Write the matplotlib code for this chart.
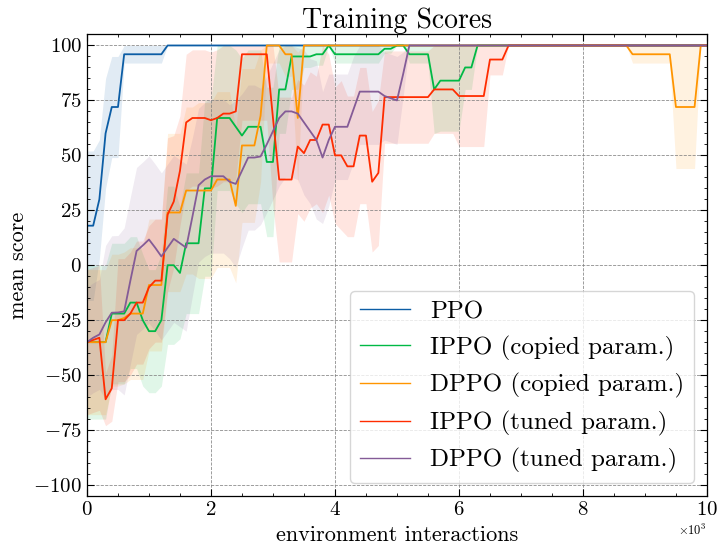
import numpy as np
import matplotlib
matplotlib.use("Agg")
import matplotlib.pyplot as plt
from matplotlib.ticker import MultipleLocator

plt.rcParams.update({
    "font.family": "serif",
    "font.serif": ["cmr10"],
    "mathtext.fontset": "cm",
    "axes.formatter.use_mathtext": True,
    "axes.unicode_minus": True,
    "xtick.direction": "in",
    "ytick.direction": "in",
    "xtick.top": True,
    "ytick.right": True,
    "xtick.major.size": 5,
    "ytick.major.size": 5,
    "xtick.minor.size": 2.5,
    "ytick.minor.size": 2.5,
    "axes.linewidth": 0.9,
})

# environment interactions (every 100 steps)
steps = np.arange(101) * 100

labels = ["PPO", "IPPO (copied param.)", "DPPO (copied param.)",
          "IPPO (tuned param.)", "DPPO (tuned param.)"]
colors = ["#0C5DA5", "#00B945", "#FF9500", "#FF2C00", "#845B97"]

ppo_mean = [18, 18, 30, 60, 72, 72, 96, 96, 96, 96,
            96, 96, 96, 100, 100, 100, 100, 100, 100, 100,
            100, 100, 100, 100, 100, 100, 100, 100, 100, 100,
            100, 100, 100, 100, 100, 100, 100, 100, 100, 100,
            100, 100, 100, 100, 100, 100, 100, 100, 100, 100,
            100, 100, 100, 100, 100, 100, 100, 100, 100, 100,
            100, 100, 100, 100, 100, 100, 100, 100, 100, 100,
            100, 100, 100, 100, 100, 100, 100, 100, 100, 100,
            100, 100, 100, 100, 100, 100, 100, 100, 100, 100,
            100, 100, 100, 100, 100, 100, 100, 100, 100, 100,
            100]
ppo_std = [34, 34, 27, 25, 23, 23, 4, 4, 4, 4,
           4, 4, 4, 0, 0, 0, 0, 0, 0, 0,
           0, 0, 0, 0, 0, 0, 0, 0, 0, 0,
           0, 0, 0, 0, 0, 0, 0, 0, 0, 0,
           0, 0, 0, 0, 0, 0, 0, 0, 0, 0,
           0, 0, 0, 0, 0, 0, 0, 0, 0, 0,
           0, 0, 0, 0, 0, 0, 0, 0, 0, 0,
           0, 0, 0, 0, 0, 0, 0, 0, 0, 0,
           0, 0, 0, 0, 0, 0, 0, 0, 0, 0,
           0, 0, 0, 0, 0, 0, 0, 0, 0, 0,
           0]

ippo_copied_mean = [-35, -35, -35, -35, -22, -22, -22, -17, -17, -25,
                    -30, -30, -25, 0, 0, -3.5, 10, 10, 10, 35,
                    35, 67, 67, 67, 63, 59, 63, 63, 63, 47,
                    47, 80, 80, 95, 95, 95, 95, 96, 96, 100,
                    96, 96, 96, 96, 96, 96, 96, 96, 98.5, 98.5,
                    100, 100, 96, 96, 96, 96, 80, 84, 84, 84,
                    84, 90, 90, 100, 100, 100, 100, 100, 100, 100,
                    100, 100, 100, 100, 100, 100, 100, 100, 100, 100,
                    100, 100, 100, 100, 100, 100, 100, 100, 100, 100,
                    100, 100, 100, 100, 100, 100, 100, 100, 100, 100,
                    100]
ippo_copied_std = [35, 35, 35, 35, 32, 32, 32, 30, 30, 30,
                   28, 28, 30, 36, 36, 30, 32, 32, 32, 40,
                   40, 33, 33, 33, 35, 35, 35, 35, 35, 34,
                   34, 20, 20, 15, 15, 5, 5, 5, 5, 0,
                   4, 4, 4, 4, 4, 4, 4, 4, 2, 2,
                   0, 0, 4, 4, 4, 4, 20, 23, 23, 23,
                   23, 10, 10, 0, 0, 0, 0, 0, 0, 0,
                   0, 0, 0, 0, 0, 0, 0, 0, 0, 0,
                   0, 0, 0, 0, 0, 0, 0, 0, 0, 0,
                   0, 0, 0, 0, 0, 0, 0, 0, 0, 0,
                   0]

dppo_copied_mean = [-35, -35, -35, -35, -25, -25, -24, -22, -22, -22,
                    -9, -9, -9, 24, 24, 24, 34, 34, 34, 34,
                    34, 39, 39, 39, 27, 54.5, 54.5, 54.5, 68, 100,
                    100, 100, 96, 96, 67, 100, 100, 100, 100, 100,
                    100, 100, 100, 100, 100, 100, 100, 100, 100, 100,
                    100, 100, 100, 100, 100, 100, 100, 100, 100, 100,
                    100, 100, 100, 100, 100, 100, 100, 100, 100, 100,
                    100, 100, 100, 100, 100, 100, 100, 100, 100, 100,
                    100, 100, 100, 100, 100, 100, 100, 100, 96, 96,
                    96, 96, 96, 96, 96, 72, 72, 72, 72, 100,
                    100]
dppo_copied_std = [33, 33, 33, 33, 30, 30, 30, 30, 30, 30,
                   30, 30, 30, 36, 36, 36, 38, 38, 40, 40,
                   40, 40, 40, 40, 35, 35, 35, 35, 30, 8,
                   8, 8, 10, 10, 30, 0, 0, 0, 0, 0,
                   0, 0, 0, 0, 0, 0, 0, 0, 0, 0,
                   0, 0, 0, 0, 0, 0, 0, 0, 0, 0,
                   0, 0, 0, 0, 0, 0, 0, 0, 0, 0,
                   0, 0, 0, 0, 0, 0, 0, 0, 0, 0,
                   0, 0, 0, 0, 0, 0, 0, 0, 4, 4,
                   4, 4, 4, 4, 4, 28, 28, 28, 28, 0,
                   0]

ippo_tuned_mean = [-35, -34, -33, -61, -56, -25, -25, -22, -17, -17,
                   -10, -7, -7, 23, 29, 43, 65, 67, 67, 67,
                   66, 67, 69, 69, 70, 96, 96, 96, 96, 96,
                   67, 39, 39, 39, 54, 51, 57, 57, 64, 64,
                   50, 50, 45, 45, 59, 59, 38, 42, 76.5, 76.5,
                   76.5, 76.5, 76.5, 76.5, 76.5, 76.5, 80, 80, 80, 80,
                   77, 77, 77, 77, 77, 93.6, 93.6, 93.6, 100, 100,
                   100, 100, 100, 100, 100, 100, 100, 100, 100, 100,
                   100, 100, 100, 100, 100, 100, 100, 100, 100, 100,
                   100, 100, 100, 100, 100, 100, 100, 100, 100, 100,
                   100]
ippo_tuned_std = [33, 33, 33, 12, 15, 28, 28, 28, 28, 28,
                  28, 28, 28, 35, 30, 25, 31, 31, 31, 31,
                  31, 31, 31, 31, 31, 30, 30, 30, 30, 30,
                  40, 37.5, 37.5, 37.5, 30.5, 31, 31, 29, 40, 32,
                  31, 34, 32, 32, 31, 31, 32, 33, 21, 21,
                  21, 21, 21, 21, 21, 21, 20, 20, 20, 20,
                  23, 23, 23, 23, 23, 7, 7, 7, 0, 0,
                  0, 0, 0, 0, 0, 0, 0, 0, 0, 0,
                  0, 0, 0, 0, 0, 0, 0, 0, 0, 0,
                  0, 0, 0, 0, 0, 0, 0, 0, 0, 0,
                  0]

dppo_tuned_mean = [-35, -33, -31.5, -26, -21.6, -21.5, -21, -7, 6.5, 9,
                   11.7, 8, 4, 8, 12, 10, 8, 22, 36.4, 39,
                   40.5, 40.5, 40.5, 38, 37, 43, 49, 49, 49.5, 55,
                   61, 67, 70, 70, 69, 65, 61, 57, 49, 57,
                   63, 63, 63, 71, 79, 79, 79, 79, 77, 76,
                   75, 87, 100, 100, 100, 100, 100, 100, 100, 100,
                   100, 100, 100, 100, 100, 100, 100, 100, 100, 100,
                   100, 100, 100, 100, 100, 100, 100, 100, 100, 100,
                   100, 100, 100, 100, 100, 100, 100, 100, 100, 100,
                   100, 100, 100, 100, 100, 100, 100, 100, 100, 100,
                   100]
dppo_tuned_std = [25, 25, 25, 35, 35, 35, 38, 38, 38, 38,
                  38, 38, 38, 38, 38, 38, 38, 36, 35, 35,
                  35, 35, 35, 35, 38, 35, 33, 33, 31, 31,
                  31, 31, 30, 30, 30, 33, 33, 36, 30, 30,
                  24, 24, 24, 24, 24, 24, 24, 24, 20, 20,
                  20, 10, 0, 0, 0, 0, 0, 0, 0, 0,
                  0, 0, 0, 0, 0, 0, 0, 0, 0, 0,
                  0, 0, 0, 0, 0, 0, 0, 0, 0, 0,
                  0, 0, 0, 0, 0, 0, 0, 0, 0, 0,
                  0, 0, 0, 0, 0, 0, 0, 0, 0, 0,
                  0]

means = [ppo_mean, ippo_copied_mean, dppo_copied_mean, ippo_tuned_mean, dppo_tuned_mean]
stds = [ppo_std, ippo_copied_std, dppo_copied_std, ippo_tuned_std, dppo_tuned_std]

fig = plt.figure(figsize=(7.23, 5.5), dpi=100)
ax = fig.add_axes([0.1203, 0.0982, 0.8575, 0.8391])

for m, s, c, lab in zip(means, stds, colors, labels):
    m = np.array(m, dtype=float)
    s = np.array(s, dtype=float)
    ax.fill_between(steps, m - s, np.minimum(m + s, 100), color=c, alpha=0.12, lw=0)
    ax.plot(steps, m, color=c, lw=1.3, label=lab)

ax.set_xlim(0, 10000)
ax.set_ylim(-105, 105)
ax.xaxis.set_major_locator(MultipleLocator(2000))
ax.xaxis.set_minor_locator(MultipleLocator(500))
ax.yaxis.set_major_locator(MultipleLocator(25))
ax.yaxis.set_minor_locator(MultipleLocator(5))
ax.ticklabel_format(axis="x", style="sci", scilimits=(3, 3))
ax.xaxis.get_offset_text().set_fontsize(9)
ax.tick_params(labelsize=15)
ax.grid(True, which="major", color="gray", ls="--", lw=0.6, alpha=0.9)

ax.set_title("Training Scores", fontsize=20, pad=5)
ax.set_xlabel("environment interactions", fontsize=16, labelpad=5)
ax.set_ylabel("mean score", fontsize=16, labelpad=4)

leg = ax.legend(loc="lower right", fontsize=18)
for ln in leg.get_lines():
    ln.set_linewidth(1.0)

fig.savefig("out.png", dpi=100)
